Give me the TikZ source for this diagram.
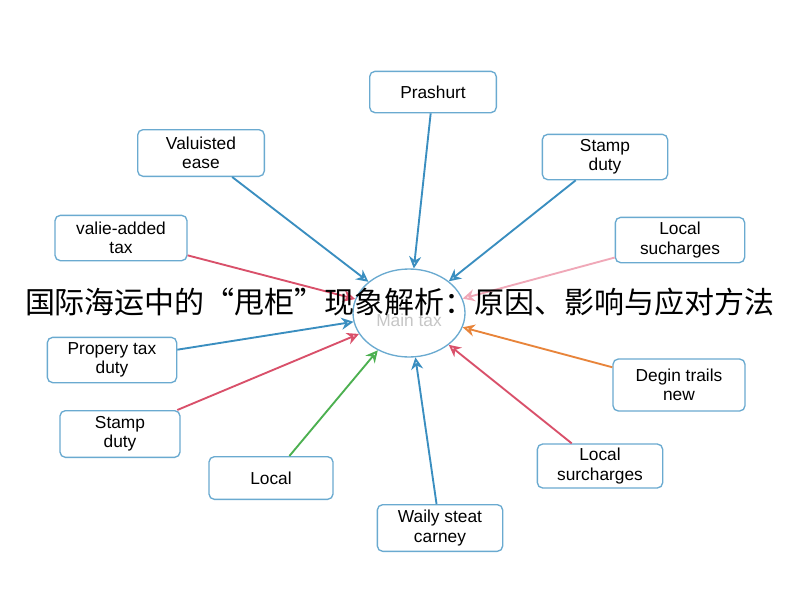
\documentclass[tikz,border=0pt]{standalone}
\usepackage{fontspec}
\setmainfont{Liberation Sans}
\newfontfamily\cjk{Noto Sans CJK SC}
\usetikzlibrary{arrows.meta,shapes.geometric}
\definecolor{bx}{HTML}{6AAAD0}
\definecolor{ab}{HTML}{3A8EC0}
\definecolor{ar}{HTML}{D9506A}
\definecolor{ap}{HTML}{F0A8B8}
\definecolor{ag}{HTML}{4CB050}
\definecolor{ao}{HTML}{E8843A}
\begin{document}
\begin{tikzpicture}[x=0.75pt,y=-0.75pt,
 box/.style={draw=bx,line width=1pt,rounded corners=4pt,fill=white,align=center,font=\fontsize{13}{14.5}\selectfont,inner sep=0pt},
 arr/.style={line width=1.4pt,-{Stealth[length=9pt,width=9pt,open]}}]
\useasboundingbox[fill=white] (0,0) rectangle (800,600);
\node[draw=bx,line width=1pt,ellipse,minimum width=84pt,minimum height=66pt,inner sep=0pt] (c) at (409,313) {};
\node[text=gray!45,font=\fontsize{13}{14}\selectfont] (ml) at (409,320) {Main tax};
\node[box,minimum width=95pt,minimum height=31pt] (p) at (433,92) {Prashurt};
\node[box,minimum width=95pt,minimum height=35pt] (v) at (201,153) {Valuisted\\ease};
\node[box,minimum width=94pt,minimum height=34pt] (s1) at (605,157) {Stamp\\duty};
\node[box,minimum width=99pt,minimum height=34pt] (va) at (121,238) {valie-added\\tax};
\node[box,minimum width=97pt,minimum height=34pt] (l1) at (680,240) {Local\\sucharges};
\node[box,minimum width=97pt,minimum height=34pt] (pr) at (112,360) {Propery tax\\duty};
\node[box,minimum width=99pt,minimum height=39pt] (d) at (679,385) {Degin trails\\new};
\node[box,minimum width=90pt,minimum height=35pt] (s2) at (120,434) {Stamp\\duty};
\node[box,minimum width=93pt,minimum height=32pt] (lo) at (271,478) {Local};
\node[box,minimum width=94pt,minimum height=33pt] (l2) at (600,466) {Local\\surcharges};
\node[box,minimum width=94pt,minimum height=35pt] (w) at (440,528) {Waily steat\\carney};
\draw[arr,ab] (p) -- (c);
\draw[arr,ab] (v) -- (c);
\draw[arr,ab] (s1) -- (c);
\draw[arr,ar] (va) -- (c);
\draw[arr,ap] (l1) -- (c);
\draw[arr,ab] (pr) -- (c);
\draw[arr,ar] (s2) -- (c);
\draw[arr,ag] (lo) -- (c);
\draw[arr,ab] (w) -- (c);
\draw[arr,ar] (l2) -- (c);
\draw[arr,ao] (d) -- (c);
\node[font=\cjk\fontsize{22.5}{24}\selectfont,inner sep=0pt] (t) at (400,302) {国际海运中的“甩柜”现象解析：原因、影响与应对方法};
\end{tikzpicture}
\end{document}
